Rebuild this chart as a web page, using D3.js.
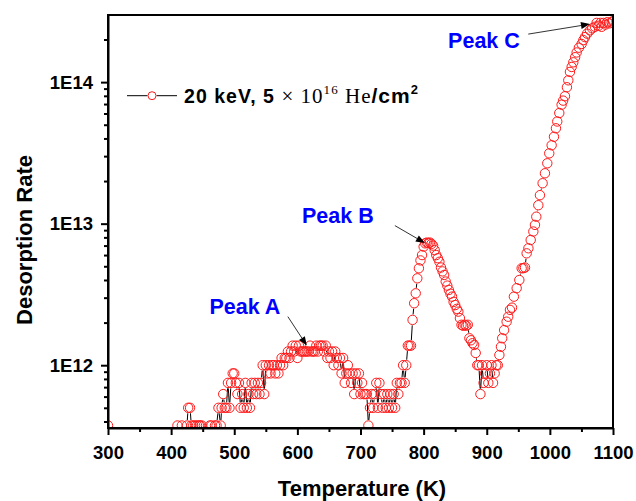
<!DOCTYPE html>
<html><head><meta charset="utf-8">
<script src="https://cdn.jsdelivr.net/npm/d3@7"></script>
<style>body{margin:0;background:#fff} svg{display:block}</style>
</head><body>
<script>
// ---- data ----
const temps = [300,360,410,417,421,425,427,430,432,435,438,441,444,446,448.5,455,461.5,464,469.5,472,475,478.5,
480,482.5,485,487.5,490,492.5,495,497.5,500,502.5,505,507.5,510,512.5,515,517.5,520,522.5,525,527.5,530,532.5,535,537.5,540,542.5,
545,547.5,550,552.5,555,557.5,560,562.5,565,567.5,570,572.5,575,577.5,580,582.5,585,587.5,590,592.5,595,597.5,600,602.5,605,607.5,
610,612.5,615,617.5,620,622.5,625,627.5,630,632.5,635,637.5,640,642.5,645,647.5,650,652.5,655,657.5,660,662.5,665,667.5,670,672.5,
675,677.5,680,682.5,685,687.5,690,692.5,695,697.5,700,702.5,705,707.5,710,712.5,715,717.5,720,722.5,725,727.5,730,732.5,735,737.5,
740,742.5,745,747.5,750,752.5,755,757.5,760,762.5,765,767.5,770,772.5,775,777.5,780,782.5,785,787.5,790,792.5,795,797.5,800,802.5,
805,807.5,810,812.5,815,817.5,820,822.5,825,827.5,830,832.5,835,837.5,840,842.5,845,847.5,850,852.5,855,857.5,860,862.5,865,867.5,
870,872.5,875,877.5,880,882.5,885,887.5,890,892.5,895,897.5,900,902.5,905,907.5,910,912.5,915,917.5,920,922.5,924.5,927.5,931.5,934,
936.8,940,943,947.4,951.6,955.3,958,960.6,963.2,966,969.6,973.8,976.4,978.5,981.7,984.3,988.5,992.2,995.9,999,1002.8,1006.5,1009.6,
1011.7,1014.9,1018.6,1021,1023.9,1027,1029.2,1031.8,1034.5,1037.1,1040,1042.4,1046,1050.3,1053,1055.6,1059,1063.5,1067,1071.4,1074,
1077,1080,1082,1085,1088,1091,1094,1097.8,1100];
const rates = [3.75e11,null,3.75e11,3.75e11,null,3.75e11,5e11,5e11,3.75e11,3.75e11,3.75e11,3.75e11,3.75e11,3.75e11,3.75e11,null,3.75e11,3.75e11,3.75e11,3.75e11,5e11,3.75e11,
5e11,6.25e11,5e11,5e11,7.5e11,5e11,7.5e11,8.75e11,8.75e11,7.5e11,6.25e11,7.5e11,5e11,6.25e11,5e11,7.5e11,5e11,6.25e11,5e11,7.5e11,6.25e11,7.5e11,6.25e11,7.5e11,6.25e11,7.5e11,
1e12,6.25e11,1e12,8.75e11,1e12,8.75e11,1e12,1e12,8.75e11,1e12,8.75e11,1e12,1.125e12,1e12,1.125e12,1.125e12,1.25e12,1.125e12,1.25e12,1.375e12,1.25e12,1.375e12,1.125e12,1.375e12,1.25e12,1.25e12,
1.25e12,1.25e12,1.25e12,1.25e12,1.375e12,1.25e12,1.25e12,1.25e12,1.375e12,1.25e12,1.375e12,1.375e12,1.375e12,1.25e12,1.375e12,1.125e12,1.25e12,1.125e12,1.25e12,1e12,1.25e12,1.125e12,1e12,1.125e12,8.75e11,1.125e12,
7.5e11,8.75e11,1e12,8.75e11,7.5e11,8.75e11,6.25e11,8.75e11,7.5e11,8.75e11,6.25e11,7.5e11,6.25e11,6.25e11,6.25e11,3.75e11,5e11,6.25e11,5e11,6.25e11,7.5e11,5e11,7.5e11,6.25e11,5e11,6.25e11,
5e11,6.25e11,5e11,6.25e11,5e11,6.25e11,5e11,7.5e11,6.25e11,7.5e11,7.5e11,1e12,7.5e11,1e12,1.375e12,1.375e12,1.375e12,2.09e12,2.74e12,3.22e12,4.11e12,4.84e12,5.5e12,6.0e12,6.88e12,7.26e12,
7.35e12,7.3e12,7.35e12,7.2e12,7.0e12,6.5e12,6.0e12,5.7e12,5.38e12,4.9e12,4.6e12,4.34e12,3.9e12,3.65e12,3.4e12,3.2e12,3.05e12,2.8e12,2.66e12,2.5e12,2.39e12,2.15e12,1.93e12,1.9e12,1.93e12,1.9e12,
1.93e12,1.55e12,1.5e12,1.43e12,1.39e12,1.22e12,1e12,1e12,6.25e11,1e12,7.5e11,8.75e11,1e12,7.5e11,8.75e11,1e12,7.5e11,8.75e11,1e12,1e12,1.18e12,1.35e12,1.55e12,1.77e12,2.03e12,2.2e12,
2.46e12,2.55e12,3.05e12,3.5e12,4.0e12,4.84e12,4.85e12,4.9e12,6.17e12,6.7e12,7.67e12,8.8e12,9.8e12,1.12e13,1.35e13,1.59e13,1.93e13,2.27e13,2.67e13,3.14e13,3.58e13,4.11e13,4.72e13,
5.27e13,6.05e13,6.93e13,7.4e13,7.95e13,9.2e13,1.03e14,1.18e14,1.28e14,1.38e14,1.5e14,1.62e14,1.75e14,1.86e14,1.98e14,2.08e14,2.2e14,2.32e14,2.4e14,2.46e14,2.62e14,
2.5e14,2.62e14,2.46e14,2.62e14,2.55e14,2.65e14,2.6e14,2.65e14,2.7e14];
const xTickValues = [300,400,500,600,700,800,900,1000,1100];
const xMinorValues = [350,450,550,650,750,850,950,1050];
const yTickValues = [1e12,1e13,1e14];
const yTickLabels = ["1E12","1E13","1E14"];
const xTitle = "Temperature (K)";
const yTitle = "Desorption Rate";
const peakNames = ["Peak A","Peak B","Peak C"];
const peakTemps = [615,802,1063.5];
const peakRates = [1.375e12,7.3e12,2.57e14];

// ---- layout ----
const W = 636, H = 501;
const L = 108, R = 613, T = 15, B = 428;
const SANS = "'Liberation Sans', Arial, sans-serif";
const SERIF = "'Liberation Serif', 'Times New Roman', serif";
const RED = "#ff1a1a";
const rad = 4.7;

const x = d3.scaleLinear().domain([300,1100]).range([L,R]);
const y = d3.scaleLog().domain([3.6e11,2.98e14]).range([B,T]);

const svg = d3.select("body").append("svg").attr("width",W).attr("height",H);
svg.append("defs").append("clipPath").attr("id","clip")
  .append("rect").attr("x",L).attr("y",T).attr("width",R-L).attr("height",B-T);

// data
const pts = temps.map((t,i)=>({t, v: rates[i]}));
const g = svg.append("g").attr("clip-path","url(#clip)");
// connecting line with gap to symbol
const segs = [];
for (let i=1;i<pts.length;i++){
  const a=pts[i-1], b=pts[i];
  if (a.v==null || b.v==null) continue;
  const x1=x(a.t), y1=y(a.v), x2=x(b.t), y2=y(b.v);
  const d=Math.hypot(x2-x1,y2-y1);
  const gap = rad+0.8;
  if (d<=2*gap) continue;
  const ux=(x2-x1)/d, uy=(y2-y1)/d;
  segs.push([x1+ux*gap,y1+uy*gap,x2-ux*gap,y2-uy*gap]);
}
g.selectAll("line.seg").data(segs).enter().append("line").attr("class","seg")
  .attr("x1",d=>d[0]).attr("y1",d=>d[1]).attr("x2",d=>d[2]).attr("y2",d=>d[3])
  .attr("stroke","#000").attr("stroke-width",1);
g.selectAll("circle.pt").data(pts.filter(p=>p.v!=null)).enter().append("circle").attr("class","pt")
  .attr("cx",d=>x(d.t)).attr("cy",d=>y(d.v)).attr("r",rad)
  .attr("fill","none").attr("stroke",RED).attr("stroke-width",1);

// axes
const axFont = g2 => g2.selectAll("text").attr("font-family",SANS).attr("font-weight","bold")
  .attr("font-size","18.5px").attr("fill","#000");
const xa = svg.append("g").attr("transform",`translate(0,${B})`)
  .call(d3.axisBottom(x).tickValues(xTickValues).tickSize(7).tickSizeOuter(0).tickPadding(11).tickFormat(d3.format("d")));
xa.call(axFont);
svg.append("g").attr("transform",`translate(0,${B})`)
  .call(d3.axisBottom(x).tickValues(xMinorValues).tickSize(4).tickSizeOuter(0).tickFormat(""))
  .select(".domain").remove();
const ya = svg.append("g").attr("transform",`translate(${L},0)`)
  .call(d3.axisLeft(y).tickValues(yTickValues).tickSize(7).tickSizeOuter(0).tickPadding(8)
  .tickFormat((d,i)=>yTickLabels[i]));
ya.call(axFont);
const yMinor = [];
for (let e=11;e<=14;e++) for (let m=2;m<=9;m++){ const v=m*Math.pow(10,e); if (v>=3.6e11 && v<=2.98e14) yMinor.push(v); }
svg.append("g").attr("transform",`translate(${L},0)`)
  .call(d3.axisLeft(y).tickValues(yMinor).tickSize(4).tickSizeOuter(0).tickFormat(""))
  .select(".domain").remove();
svg.selectAll(".tick line").attr("stroke","#000").attr("stroke-width",2);
svg.selectAll(".domain").attr("stroke","#000").attr("stroke-width",2);
// frame
svg.append("line").attr("x1",L-1).attr("x2",R+1).attr("y1",T).attr("y2",T).attr("stroke","#000").attr("stroke-width",2);
svg.append("line").attr("x1",R).attr("x2",R).attr("y1",T).attr("y2",B+1).attr("stroke","#000").attr("stroke-width",2);
svg.append("line").attr("x1",L-1).attr("x2",R+1).attr("y1",B).attr("y2",B).attr("stroke","#000").attr("stroke-width",2);
svg.append("line").attr("x1",L).attr("x2",L).attr("y1",T-1).attr("y2",B+1).attr("stroke","#000").attr("stroke-width",2);

// titles
svg.append("text").attr("x",362).attr("y",496).attr("text-anchor","middle")
  .attr("font-family",SANS).attr("font-weight","bold").attr("font-size","22px").text(xTitle);
svg.append("text").attr("transform","translate(31.5,240) rotate(-90)").attr("text-anchor","middle")
  .attr("font-family",SANS).attr("font-weight","bold").attr("font-size","22px").text(yTitle);

// legend
const ly = 95.7;
svg.append("line").attr("x1",127).attr("x2",147.5).attr("y1",ly).attr("y2",ly).attr("stroke","#000").attr("stroke-width",1);
svg.append("line").attr("x1",156.5).attr("x2",177).attr("y1",ly).attr("y2",ly).attr("stroke","#000").attr("stroke-width",1);
svg.append("circle").attr("cx",152).attr("cy",ly).attr("r",4).attr("fill","none").attr("stroke",RED).attr("stroke-width",1);
const lt = svg.append("text").attr("x",184).attr("y",102.5).attr("fill","#000")
  .attr("textLength",234).attr("lengthAdjust","spacing");
lt.append("tspan").attr("font-family",SANS).attr("font-weight","bold").attr("font-size","19.5px").text("20 keV, 5 ");
lt.append("tspan").attr("font-family",SERIF).attr("font-size","21px").text("\u00d7 10");
lt.append("tspan").attr("font-family",SERIF).attr("font-size","13px").attr("dy",-9).text("16");
lt.append("tspan").attr("font-family",SERIF).attr("font-size","21px").attr("dy",9).text(" He");
lt.append("tspan").attr("font-family",SANS).attr("font-weight","bold").attr("font-size","21px").text("/cm");
lt.append("tspan").attr("font-family",SANS).attr("font-weight","bold").attr("font-size","13px").attr("dy",-9).text("2");

// peak annotations
const ann = [
  {sx:-19, sy:-29, tx:-62, ty:-32},
  {sx:-30, sy:-17.4, tx:-87, ty:-20},
  {sx:-61.7, sy:10, tx:-106, ty:24.3}
];
peakNames.forEach((name,i)=>{
  const px = x(peakTemps[i]), py = y(peakRates[i]);
  const a = ann[i];
  const sx = px+a.sx, sy = py+a.sy;
  const d = Math.hypot(px-sx, py-sy), ux=(px-sx)/d, uy=(py-sy)/d;
  const hl = 9, hw = 3.5;
  const bx = px-ux*hl, by = py-uy*hl;
  svg.append("line").attr("x1",sx).attr("y1",sy).attr("x2",bx).attr("y2",by).attr("stroke","#333").attr("stroke-width",1);
  svg.append("path").attr("d",`M${px},${py}L${bx-uy*hw},${by+ux*hw}L${bx+uy*hw},${by-ux*hw}Z`).attr("fill","#000");
  svg.append("text").attr("x",px+a.tx).attr("y",py+a.ty).attr("text-anchor","middle")
    .attr("font-family",SANS).attr("font-weight","bold").attr("font-size","21.5px").attr("fill","#0000ff").text(name);
});
</script>
</body></html>
